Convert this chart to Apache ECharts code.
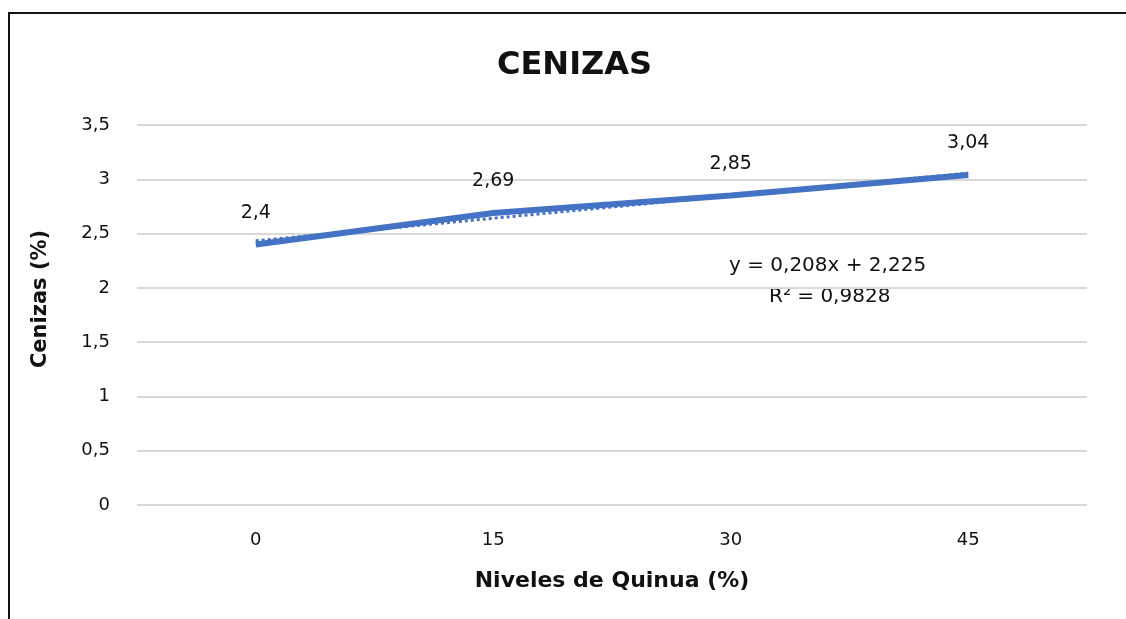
<!DOCTYPE html>
<html>
<head>
<meta charset="utf-8">
<script src="https://cdn.jsdelivr.net/npm/echarts@6/dist/echarts.min.js"></script>
<style>
  html, body { margin: 0; padding: 0; background: #fff; }
  #wrap { position: relative; width: 1126px; height: 619px; overflow: hidden; }
  #frame { position: absolute; left: 8px; top: 12px; width: 1130px; height: 620px;
           border-top: 2px solid #111; border-left: 2px solid #111; }
  #chart { position: absolute; left: 0; top: 0; width: 1126px; height: 619px; }
</style>
</head>
<body>
<div id="wrap">
  <div id="frame"></div>
  <div id="chart"></div>
</div>
<script>
  // datos
  var niveles = ['0', '15', '30', '45'];
  var cenizas = [2.4, 2.69, 2.85, 3.04];
  var tendencia = [2.433, 2.641, 2.849, 3.057];
  var ecuacion = 'y = 0,208x + 2,225';
  var r2 = 'R² = 0,9828';

  var azul = '#4472C4';
  var fuente = 'DejaVu Sans';
  var coma = function (v) { return String(v).replace('.', ','); };

  var chart = echarts.init(document.getElementById('chart'));
  chart.setOption({
    animation: false,
    title: {
      text: 'CENIZAS',
      left: 492,
      top: 45,
      textStyle: { fontFamily: fuente, fontSize: 32, fontWeight: 'bold', color: '#111' }
    },
    grid: { left: 137, right: 39, top: 125, bottom: 114 },
    xAxis: {
      type: 'category',
      data: niveles,
      axisLine: { show: false },
      axisTick: { show: false },
      axisLabel: { margin: 26, fontFamily: fuente, fontSize: 18, color: '#111' },
      name: 'Niveles de Quinua (%)',
      nameLocation: 'middle',
      nameGap: 65,
      nameTextStyle: { fontFamily: fuente, fontSize: 22, fontWeight: 'bold', color: '#111' }
    },
    yAxis: {
      type: 'value',
      min: 0,
      max: 3.5,
      interval: 0.5,
      axisLine: { show: false },
      axisTick: { show: false },
      splitLine: { lineStyle: { color: '#d9d9d9', width: 2 } },
      axisLabel: { margin: 27, fontFamily: fuente, fontSize: 18, color: '#111', formatter: coma },
      name: 'Cenizas (%)',
      nameLocation: 'middle',
      nameGap: 86,
      nameTextStyle: { fontFamily: fuente, fontSize: 21, fontWeight: 'bold', color: '#111', padding: [0, 0, 0, 32] }
    },
    series: [
      {
        name: 'Tendencia',
        type: 'line',
        data: tendencia,
        showSymbol: false,
        lineStyle: { color: azul, width: 3, type: 'dotted' },
        z: 1
      },
      {
        name: 'Cenizas',
        type: 'line',
        data: cenizas,
        symbol: 'circle',
        symbolSize: 0,
        itemStyle: { color: azul },
        lineStyle: { color: azul, width: 6 },
        label: {
          show: true,
          position: 'top',
          distance: 22,
          fontFamily: fuente,
          fontSize: 19,
          color: '#111',
          formatter: function (p) { return coma(p.value); }
        },
        z: 2
      }
    ],
    graphic: [
      {
        type: 'text',
        left: 729,
        top: 256,
        style: { text: ecuacion, font: '20px "DejaVu Sans"', fill: '#111' }
      },
      {
        type: 'text',
        left: 769,
        top: 287,
        style: { text: r2, font: '20px "DejaVu Sans"', fill: '#111' }
      }
    ]
  });
</script>
</body>
</html>
